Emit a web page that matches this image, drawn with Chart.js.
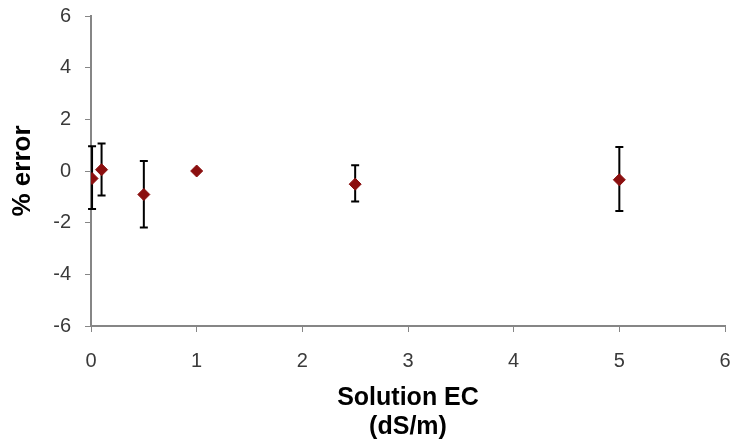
<!DOCTYPE html>
<html>
<head>
<meta charset="utf-8">
<script src="https://cdn.jsdelivr.net/npm/chart.js@4/dist/chart.umd.min.js"></script>
<style>
html,body{margin:0;padding:0;background:#fff;}
#wrap{width:732px;height:444px;}
</style>
</head>
<body>
<div id="wrap"><canvas id="c" width="732" height="444"></canvas></div>
<script>
const xValues = [0.01, 0.1, 0.5, 1, 2.5, 5];
const yValues = [-0.29, 0.05, -0.91, 0.0, -0.51, -0.34];
const yHigh   = [0.96, 1.06, 0.39, 0.0, 0.22, 0.93];
const yLow    = [-1.47, -0.95, -2.19, 0.0, -1.18, -1.55];
const xTicks = [0, 1, 2, 3, 4, 5, 6];
const yTicks = [-6, -4, -2, 0, 2, 4, 6];
const xTitle = ['Solution EC', '(dS/m)'];
const yTitle = '% error';

const points = xValues.map((x, i) => ({x: x, y: yValues[i]}));

const errorBars = {
  id: 'errorBars',
  beforeDatasetsDraw(chart) {
    const ctx = chart.ctx;
    const xs = chart.scales.x, ys = chart.scales.y;
    ctx.save();
    ctx.strokeStyle = '#000';
    ctx.lineWidth = 2;
    for (let i = 0; i < xValues.length; i++) {
      if (yHigh[i] === yLow[i]) continue;
      const px = xs.getPixelForValue(xValues[i]);
      const pt = ys.getPixelForValue(yHigh[i]);
      const pb = ys.getPixelForValue(yLow[i]);
      ctx.beginPath();
      ctx.moveTo(px, pt); ctx.lineTo(px, pb);
      ctx.moveTo(px - 4, pt); ctx.lineTo(px + 4, pt);
      ctx.moveTo(px - 4, pb); ctx.lineTo(px + 4, pb);
      ctx.stroke();
    }
    ctx.restore();
  }
};

const tickFont = {family: 'Liberation Sans, Arial, sans-serif', size: 20};
const titleFont = {family: 'Liberation Sans, Arial, sans-serif', size: 25, weight: 'bold', lineHeight: 1.15};

new Chart(document.getElementById('c'), {
  type: 'scatter',
  data: {
    datasets: [{
      data: points,
      pointStyle: 'rectRot',
      pointRadius: 6,
      pointHoverRadius: 6,
      backgroundColor: '#8B0F0F',
      borderColor: '#8B0F0F',
      borderWidth: 1
    }]
  },
  options: {
    responsive: false,
    animation: false,
    events: [],
    layout: {padding: {top: 16, right: 5.5, bottom: 0, left: 0}},
    plugins: {legend: {display: false}, tooltip: {enabled: false}},
    scales: {
      x: {
        type: 'linear',
        min: 0, max: 6,
        afterBuildTicks: (s) => { s.ticks = xTicks.map(v => ({value: v})); },
        afterFit: (s) => { s.height = 118; s.paddingLeft = 0; s.paddingRight = 0; },
        ticks: {font: tickFont, color: '#3a3a3a', padding: 17, maxRotation: 0},
        grid: {display: true, drawOnChartArea: false, drawTicks: true, tickLength: 6, color: '#868686', lineWidth: 1},
        border: {display: true, color: '#868686', width: 2},
        title: {display: true, text: xTitle, font: titleFont, color: '#000', padding: {top: 0, bottom: 3}}
      },
      y: {
        type: 'linear',
        min: -6, max: 6,
        afterBuildTicks: (s) => { s.ticks = yTicks.map(v => ({value: v})); },
        afterFit: (s) => { s.width = 91; s.paddingTop = 0; s.paddingBottom = 0; },
        ticks: {font: tickFont, color: '#3a3a3a', padding: 14},
        grid: {display: true, drawOnChartArea: false, drawTicks: true, tickLength: 6, color: '#868686', lineWidth: 1},
        border: {display: true, color: '#868686', width: 2},
        title: {display: true, text: yTitle, font: {family: 'Liberation Sans, Arial, sans-serif', size: 26, weight: 'bold', lineHeight: 1.15}, color: '#000', padding: {top: 8, bottom: 0}}
      }
    }
  },
  plugins: [errorBars]
});
</script>
</body>
</html>
